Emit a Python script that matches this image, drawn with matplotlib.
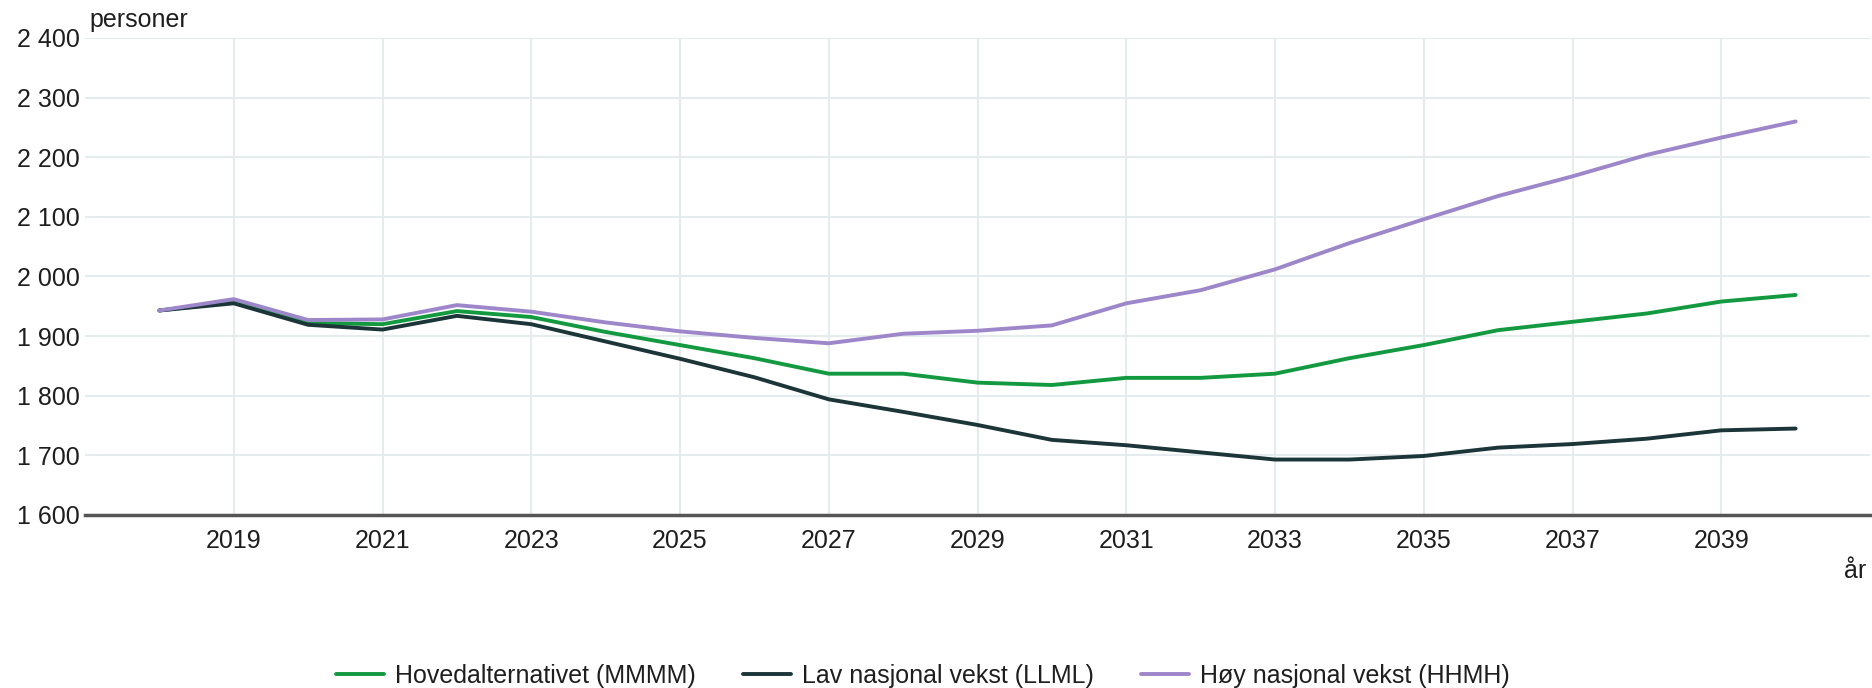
import matplotlib.pyplot as plt

# font som ligner Arial
plt.rcParams['font.family'] = ['Liberation Sans', 'DejaVu Sans']

years = list(range(2018, 2041))
hoved = [1943, 1957, 1922, 1920, 1942, 1932, 1907, 1885, 1863, 1837, 1837, 1822,
         1818, 1830, 1830, 1837, 1863, 1885, 1910, 1924, 1938, 1958, 1969]
lav = [1943, 1955, 1919, 1911, 1934, 1920, 1891, 1862, 1831, 1794, 1773, 1751,
       1726, 1717, 1705, 1693, 1693, 1699, 1713, 1719, 1728, 1742, 1745]
hoy = [1943, 1962, 1927, 1928, 1952, 1941, 1923, 1908, 1897, 1888, 1904, 1909,
       1918, 1955, 1977, 2012, 2056, 2096, 2135, 2168, 2204, 2233, 2260]
labels = ['Hovedalternativet (MMMM)', 'Lav nasjonal vekst (LLML)', 'Høy nasjonal vekst (HHMH)']
colors = ['#13993f', '#1b3539', '#9d86c9']
yticks = [1600, 1700, 1800, 1900, 2000, 2100, 2200, 2300, 2400]
xticks = list(range(2019, 2041, 2))

fig = plt.figure(figsize=(18.72, 6.88), dpi=100)
ax = fig.add_axes([85/1872, 1-515/688, (1870-85)/1872, (515-38)/688])

for serie, lab, col in zip([hoved, lav, hoy], labels, colors):
    ax.plot(years, serie, color=col, linewidth=2.8, label=lab,
            solid_capstyle='round', solid_joinstyle='round')

ax.set_xlim(2017, 2041)
ax.set_ylim(1600, 2400)
ax.set_yticks(yticks)
ax.set_yticklabels([f'{v:,}'.replace(',', ' ') for v in yticks])
ax.set_xticks(xticks)
ax.tick_params(axis='both', length=0, labelsize=18, colors='#1e1e1e')
ax.tick_params(axis='x', pad=10)
ax.tick_params(axis='y', pad=4)
ax.grid(True, color='#e6ecee', linewidth=1.5)
ax.set_axisbelow(True)
for side in ['top', 'right', 'left']:
    ax.spines[side].set_visible(False)
ax.spines['bottom'].set_color('#555555')
ax.spines['bottom'].set_linewidth(2.5)

fig.text(89/1872, 1-27/688, 'personer', fontsize=18, color='#1e1e1e', va='baseline')
fig.text(1866/1872, 1-578/688, 'år', fontsize=18, color='#1e1e1e', ha='right', va='baseline')

fig.legend(loc='center', bbox_to_anchor=(0.493, 1-676/688), ncol=3, frameon=False,
           fontsize=18, handlelength=1.9, handletextpad=0.45, columnspacing=1.9,
           labelcolor='#1e1e1e')

fig.savefig('out.png', dpi=100)
